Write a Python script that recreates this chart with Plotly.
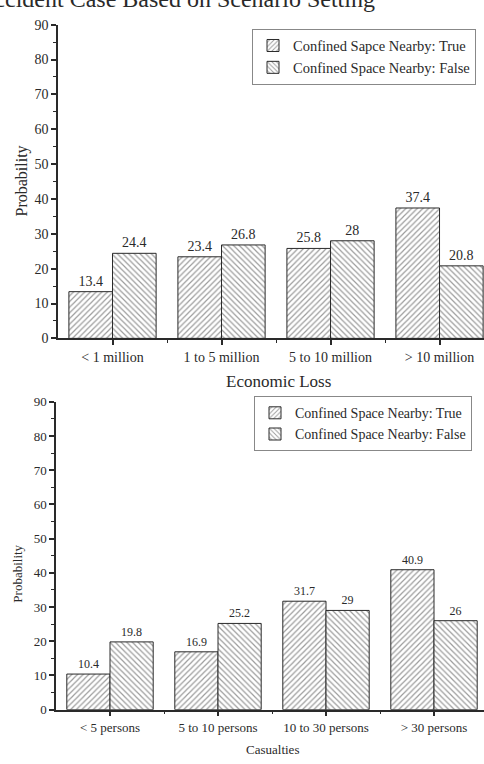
import plotly.graph_objects as go

W, H = 484, 764

# ---------------- data ----------------
loss_categories = ["< 1 million", "1 to 5 million", "5 to 10 million", "> 10 million"]
loss_true = [13.4, 23.4, 25.8, 37.4]
loss_false = [24.4, 26.8, 28, 20.8]

cas_categories = ["< 5 persons", "5 to 10 persons", "10 to 30 persons", "> 30 persons"]
cas_true = [10.4, 16.9, 31.7, 40.9]
cas_false = [19.8, 25.2, 29, 26]

y_ticks = [0, 10, 20, 30, 40, 50, 60, 70, 80, 90]

FONT = "Liberation Serif"
INK = "#2a2a2a"


def px_x(x):
    return x / W


def px_y(y):
    return 1 - y / H


fig = go.Figure()


def add_bars(cats, vals, name, shape, xaxis, yaxis, legend, fsize):
    fig.add_trace(go.Bar(
        x=list(range(len(cats))), y=vals, name=name,
        xaxis=xaxis, yaxis=yaxis, legend=legend,
        marker=dict(color="white",
                    line=dict(color=INK, width=1),
                    pattern=dict(shape=shape, fgcolor="#3a3a3a", bgcolor="white",
                                 size=4, solidity=0.3, fillmode="overlay")),
        text=[str(v) for v in vals], textposition="outside",
        textfont=dict(family=FONT, size=fsize, color=INK),
        cliponaxis=False,
    ))


add_bars(loss_categories, loss_true, "Confined Sapce Nearby: True", "/", "x", "y", "legend", 14)
add_bars(loss_categories, loss_false, "Confined Space Nearby: False", "\\", "x", "y", "legend", 14)
add_bars(cas_categories, cas_true, "Confined Space Nearby: True", "/", "x2", "y2", "legend2", 12)
add_bars(cas_categories, cas_false, "Confined Space Nearby: False", "\\", "x2", "y2", "legend2", 12)


def xaxis_cfg(domain, rng, cats, fsize, anchor):
    return dict(domain=domain, range=rng, anchor=anchor, tickmode="array",
                tickvals=list(range(len(cats))), ticktext=cats,
                showline=True, linecolor=INK, linewidth=1.5,
                ticks="outside", ticklen=5, tickwidth=1.5, tickcolor=INK,
                minor=dict(tickmode="array", tickvals=[0.5, 1.5, 2.5],
                           ticks="outside", ticklen=3, tickwidth=1.2, tickcolor=INK),
                showgrid=False, zeroline=False, fixedrange=True,
                tickfont=dict(family=FONT, size=fsize, color=INK))


def yaxis_cfg(domain, fsize, anchor):
    return dict(domain=domain, range=[0, 90], anchor=anchor, tickmode="array",
                tickvals=y_ticks,
                showline=True, linecolor=INK, linewidth=1.5,
                ticks="outside", ticklen=5, tickwidth=1.5, tickcolor=INK,
                minor=dict(tickmode="array", tickvals=[5, 15, 25, 35, 45, 55, 65, 75, 85],
                           ticks="outside", ticklen=3, tickwidth=1.2, tickcolor=INK),
                showgrid=False, zeroline=False, fixedrange=True,
                tickfont=dict(family=FONT, size=fsize, color=INK))


fig.update_layout(
    width=W, height=H,
    margin=dict(l=0, r=0, t=0, b=0),
    paper_bgcolor="white", plot_bgcolor="white",
    barmode="group", bargap=0.2, bargroupgap=0,
    xaxis=xaxis_cfg([px_x(58), 1], [-0.5, 3.408], loss_categories, 14, "y"),
    yaxis=yaxis_cfg([px_y(338), px_y(18)], 14, "x"),
    xaxis2=xaxis_cfg([px_x(56), 1], [-0.5, 3.463], cas_categories, 13, "y2"),
    yaxis2=yaxis_cfg([px_y(716.7), px_y(402.7)], 13, "x2"),
    legend=dict(x=px_x(252), y=px_y(22), xanchor="left", yanchor="top",
                bgcolor="white", bordercolor="#888", borderwidth=1,
                font=dict(family=FONT, size=14.5, color=INK),
                tracegroupgap=0, itemwidth=30),
    legend2=dict(x=px_x(254), y=px_y(397), xanchor="left", yanchor="top",
                 bgcolor="white", bordercolor="#888", borderwidth=1,
                 font=dict(family=FONT, size=14, color=INK),
                 tracegroupgap=0, itemwidth=30),
    showlegend=True,
)

annotations = [
    dict(text="Accident Case Based on Scenario Setting", x=px_x(377), y=px_y(7),
         xanchor="right", yanchor="bottom", font=dict(family=FONT, size=24, color=INK)),
    dict(text="Economic Loss", x=px_x(278), y=px_y(382),
         xanchor="center", yanchor="middle", font=dict(family=FONT, size=17, color=INK)),
    dict(text="Casualties", x=px_x(272), y=px_y(757),
         xanchor="center", yanchor="middle", font=dict(family=FONT, size=13, color=INK)),
    dict(text="Probability", x=px_x(22), y=px_y(178), textangle=-90,
         xanchor="center", yanchor="middle", font=dict(family=FONT, size=16, color=INK)),
    dict(text="Probability", x=px_x(18), y=px_y(578), textangle=-90,
         xanchor="center", yanchor="middle", font=dict(family=FONT, size=13, color=INK)),
]
for a in annotations:
    a.update(xref="paper", yref="paper", showarrow=False)
fig.update_layout(annotations=annotations)

fig.write_html(
    "out.html",
    config={"displayModeBar": False},
    post_script="document.body.style.margin='0';document.body.style.overflow='hidden';",
)
